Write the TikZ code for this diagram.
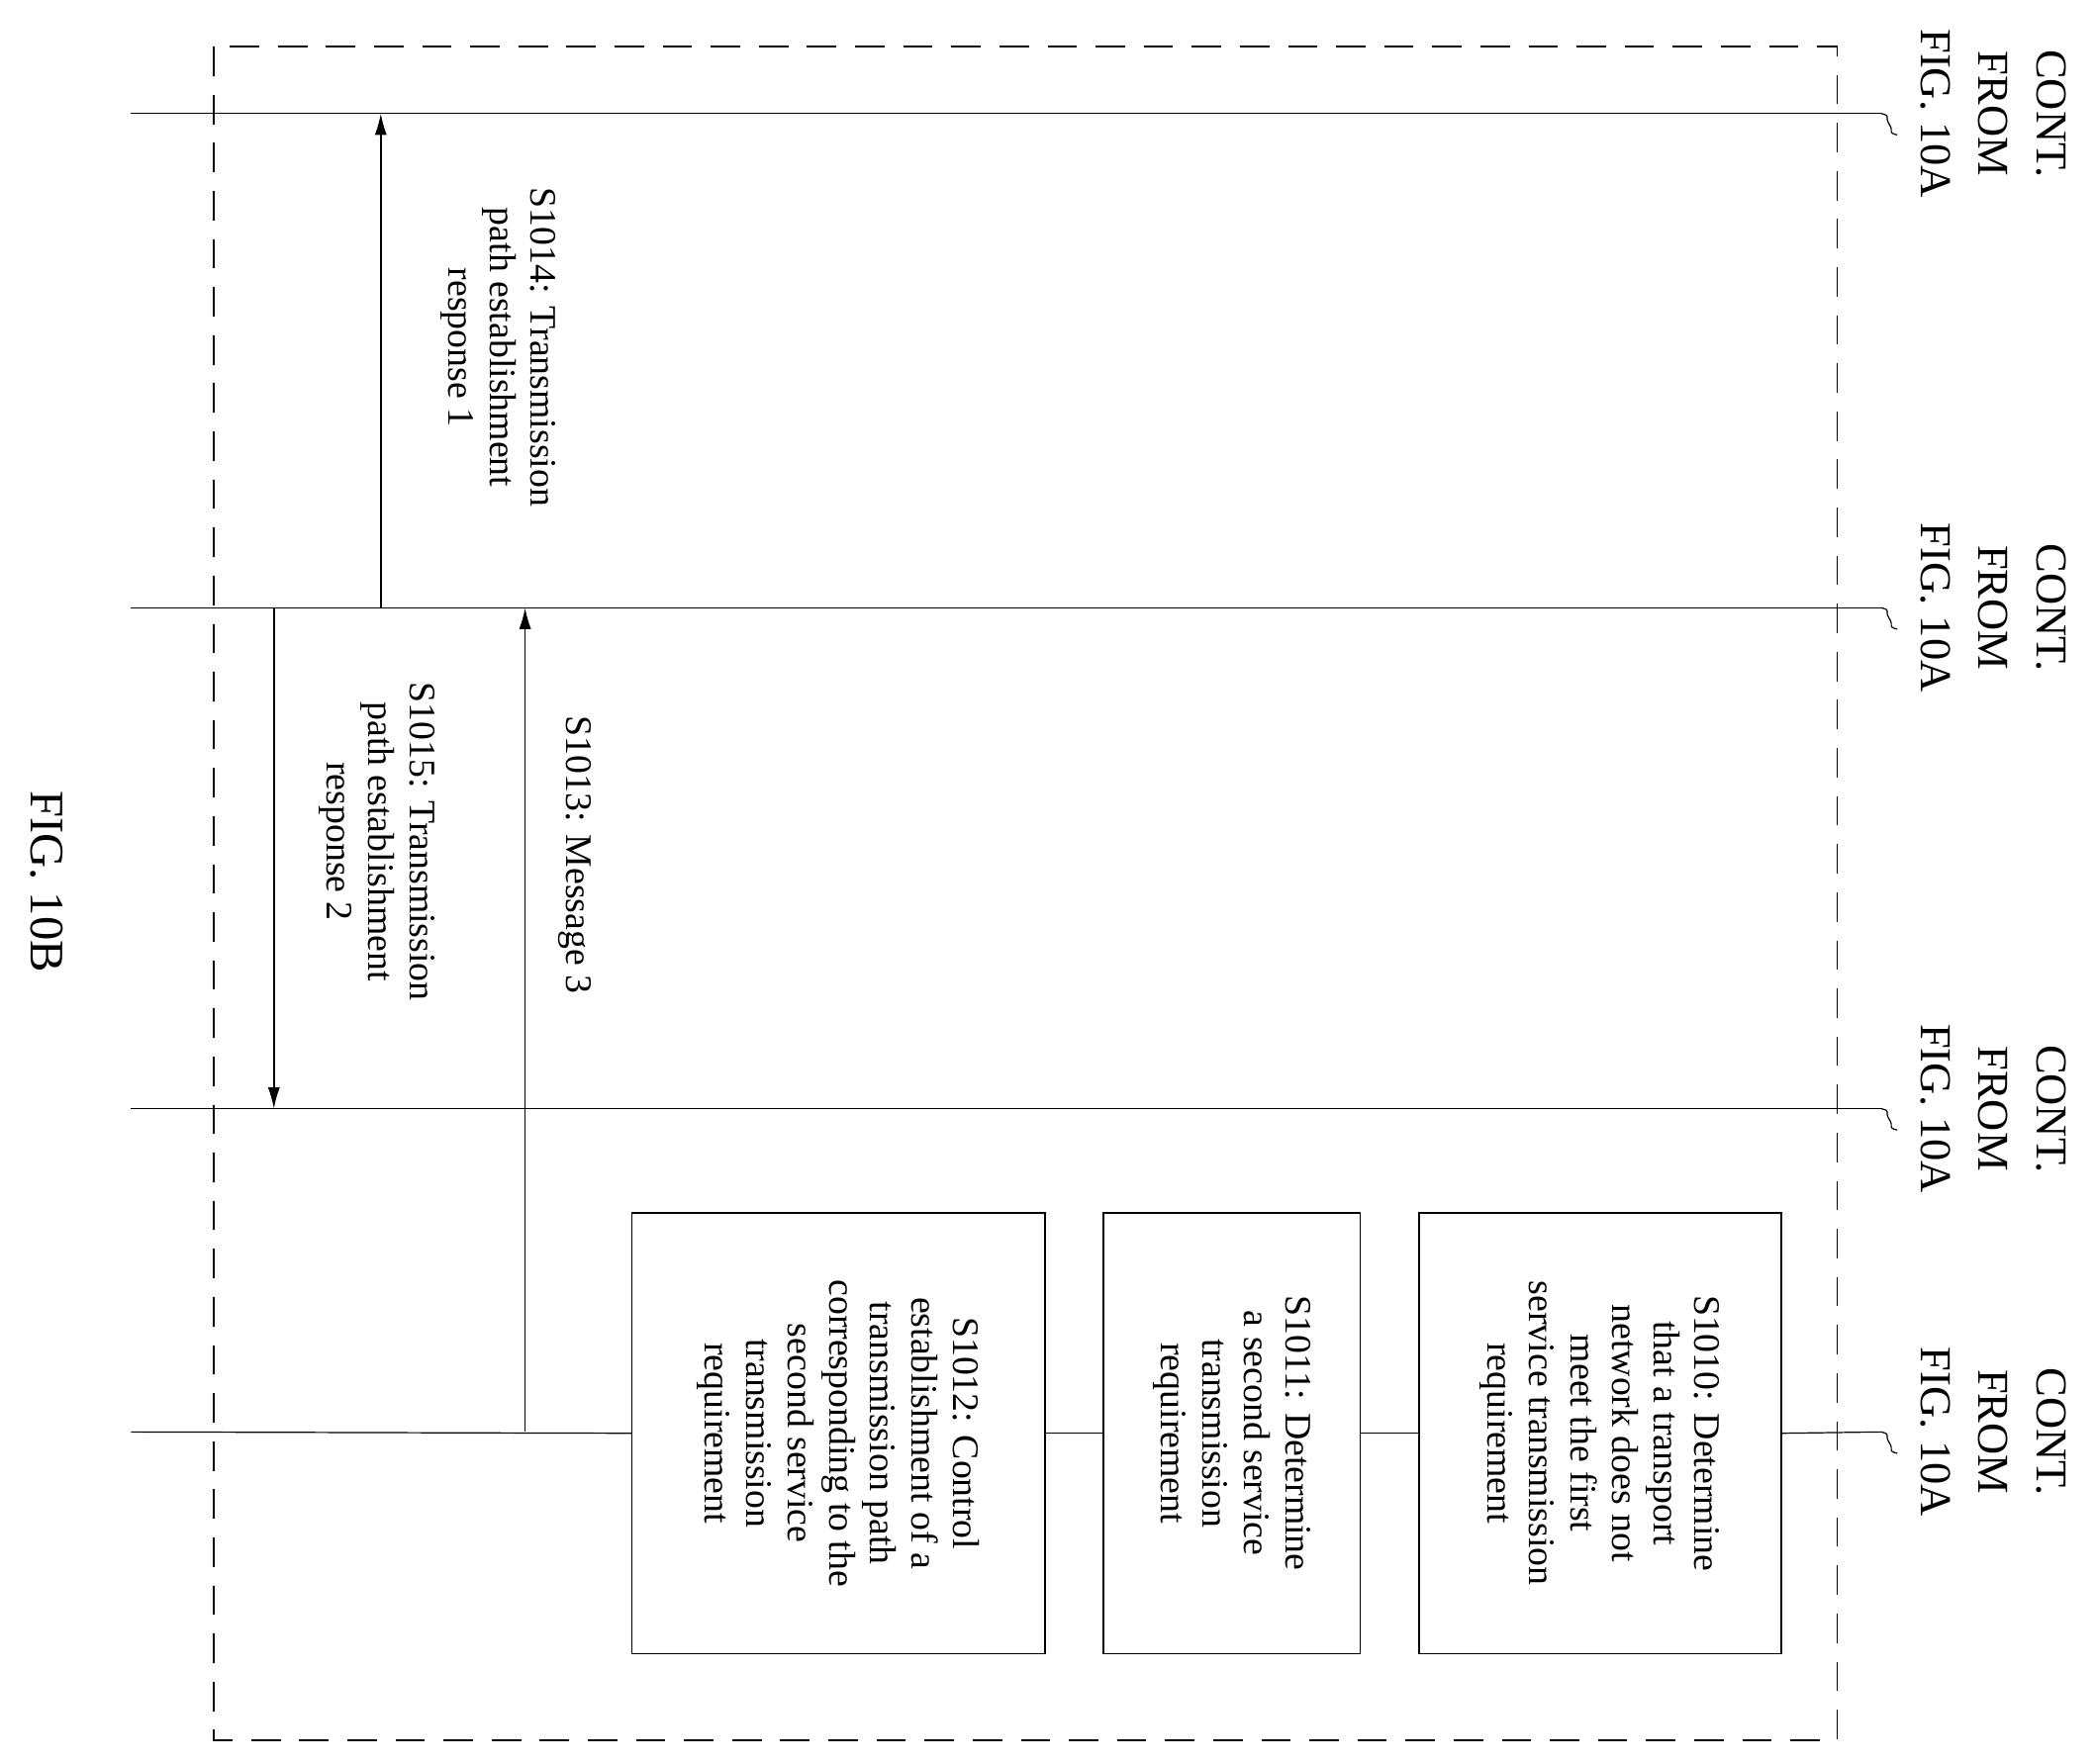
\documentclass[tikz,border=0pt]{standalone}
\usepackage{fontspec}
\setmainfont{Liberation Serif}
\usetikzlibrary{arrows.meta}
\tikzset{
  lifeline/.style={line width=0.9pt},
  msg/.style={line width=1.2pt,-{Latex[length=16pt,width=9pt]}},
  stepbox/.style={draw,line width=1.2pt,rotate=-90,align=center,inner sep=0pt,
    font=\fontsize{28}{31}\selectfont},
  lbl/.style={rotate=-90,align=center,inner sep=0pt,font=\fontsize{28}{31}\selectfont},
  cont/.style={rotate=-90,align=center,inner sep=0pt,font=\fontsize{33}{43}\selectfont},
}
\newcommand{\contmark}[1]{\draw[line width=0.9pt] (#1) .. controls +(8,2) and +(-4,-6) .. +(6,8) .. controls +(4,6) and +(-8,-2) .. +(12,16);}
\begin{document}
\begin{tikzpicture}[x=1pt,y=-1pt]
\useasboundingbox (0,0) rectangle (1568,1320);
% frame
\draw[line width=1.2pt,dash pattern=on 22pt off 14pt] (160,35) rectangle (1375,1303);
% lifelines
\foreach \n/\y in {1/85,2/455,3/830,4/1072}{
  \coordinate (L\n s) at (98,\y);
  \coordinate (L\n e) at (1408,\y);
  \node[cont] (C\n) at (1492,\y) {CONT.\\FROM\\FIG. 10A};
}
\foreach \n in {1,2,3}{
  \draw[lifeline] (L\n s) -- (L\n e);
}
\foreach \n in {1,2,3,4}{ \contmark{L\n e} }
% boxes
\node[stepbox,minimum width=330pt,minimum height=271pt] (S1010) at (1197.5,1073)
  {S1010: Determine\\that a transport\\network does not\\meet the first\\service transmission\\requirement};
\node[stepbox,minimum width=330pt,minimum height=192pt] (S1011) at (922,1073)
  {S1011: Determine\\a second service\\transmission\\requirement};
\node[stepbox,minimum width=330pt,minimum height=309pt] (S1012) at (627.5,1073)
  {S1012: Control\\establishment of a\\transmission path\\corresponding to the\\second service\\transmission\\requirement};
\draw[lifeline] (L4s) -- (S1012.south);
\draw[lifeline] (S1012.north) -- (S1011.south);
\draw[lifeline] (S1011.north) -- (S1010.south);
\draw[lifeline] (S1010.north) -- (L4e);
% messages
\coordinate (m13a) at (393,1072);
\coordinate (m13b) at (393,455);
\draw[msg] (m13a) -- (m13b);
\node[lbl] (t13) at (430,640) {S1013: Message 3};
\coordinate (m14a) at (285,455);
\coordinate (m14b) at (285,85);
\draw[msg] (m14a) -- (m14b);
\node[lbl] (t14) at (373,260) {S1014: Transmission\\path establishment\\response 1};
\coordinate (m15a) at (205,455);
\coordinate (m15b) at (205,830);
\draw[msg] (m15a) -- (m15b);
\node[lbl] (t15) at (282,630) {S1015: Transmission\\path establishment\\response 2};
% caption
\node[rotate=-90,font=\fontsize{36}{40}\selectfont] (fig) at (35,660) {FIG. 10B};
\end{tikzpicture}
\end{document}
